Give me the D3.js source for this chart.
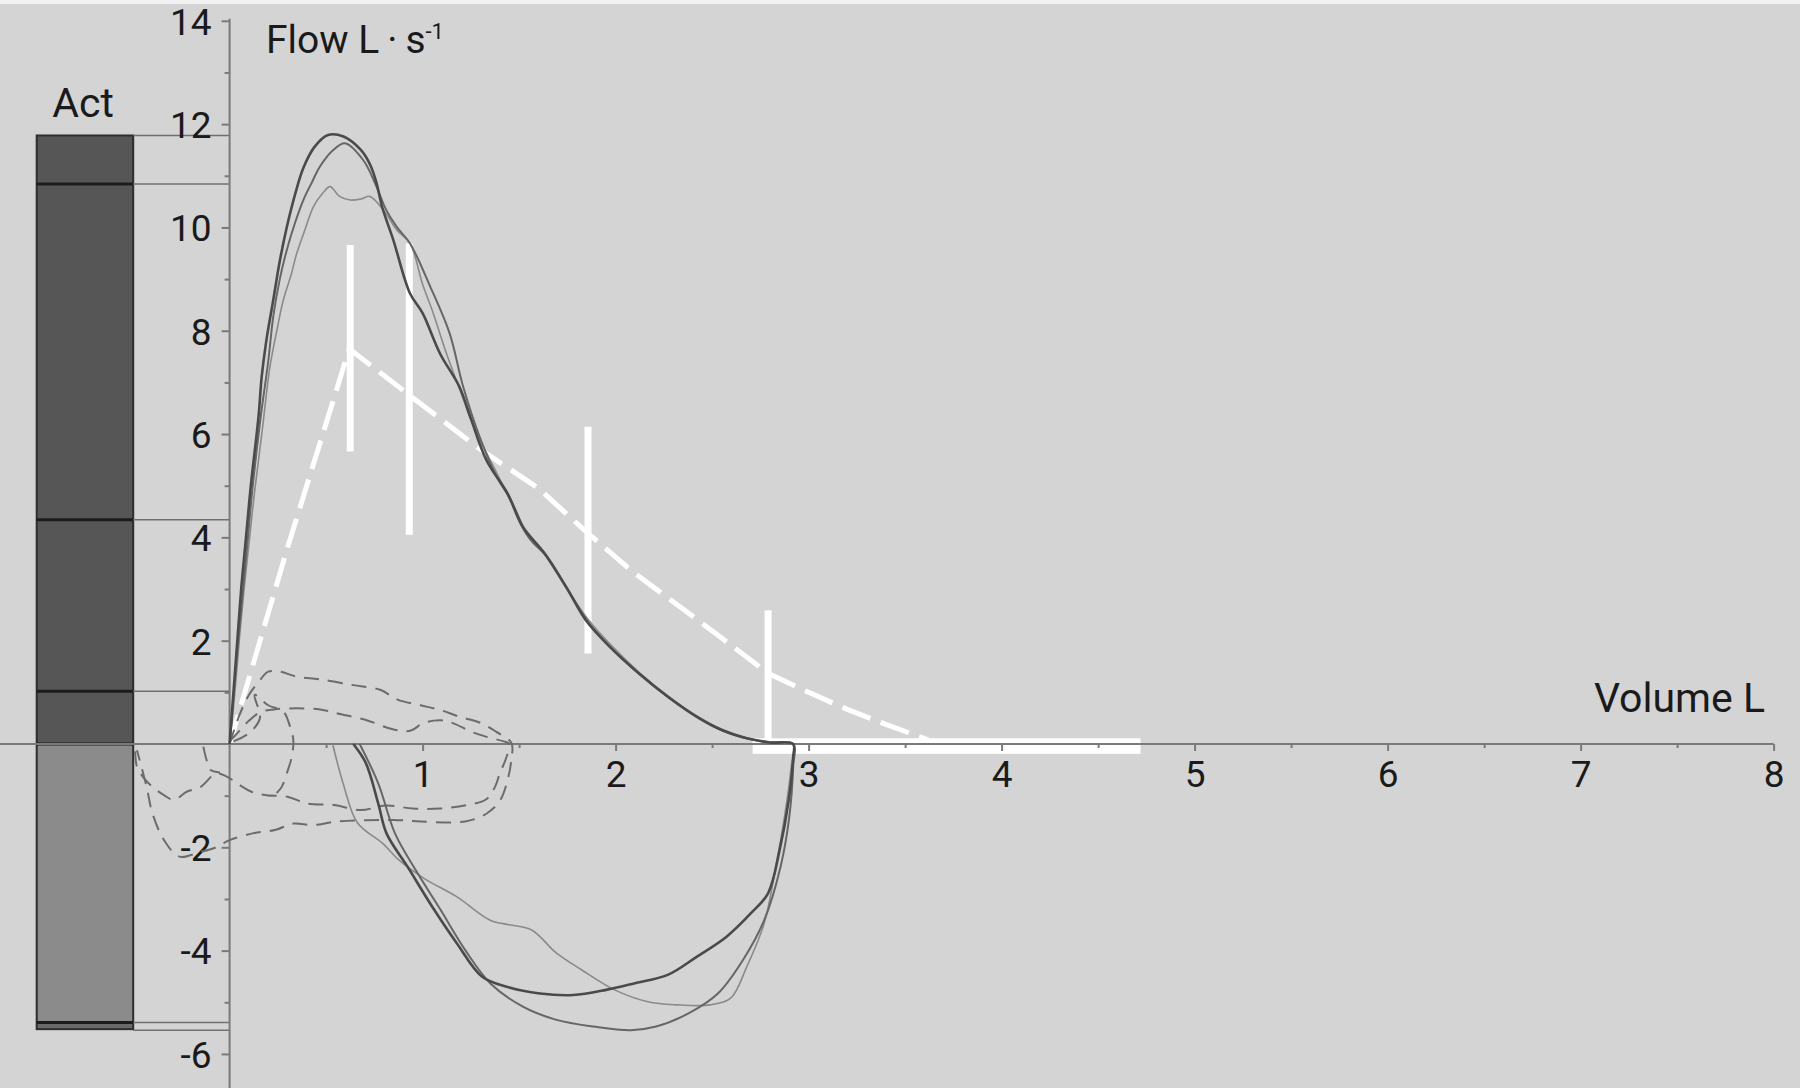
<!DOCTYPE html>
<html><head><meta charset="utf-8">
<script src="https://cdn.jsdelivr.net/npm/d3@7"></script>
<style>html,body{margin:0;padding:0;background:#d4d4d4;}svg{display:block;}</style>
</head><body>
<svg id="c" width="1800" height="1088"></svg>
<script>
// ---------- data ----------
const xTickValues = [1,2,3,4,5,6,7,8];
const xMinorTicks = [0.5,1.5,2.5,3.5,4.5,5.5,6.5,7.5];
const yTickValues = [14,12,10,8,6,4,2,-2,-4,-6];
const yMinorTicks = [13,11,9,7,5,3,1,-1,-3,-5];
const actDarkTop = 11.78;
const actLightBottom = -5.39;
const actBottom = -5.52;
const actDividers = [10.84, 4.34, 1.02, 0, -5.39];
const actRefLines = [11.78, 10.84, 4.34, 1.02, -5.39, -5.54];

// measured loops (volume L, flow L/s)
const loopA = [[0,0],[0.02,1.0],[0.04,2.0],[0.06,3.0],[0.08,3.8],[0.11,5.0],[0.15,6.34],[0.166,7.1],[0.19,7.8],[0.226,8.59],[0.26,9.35],[0.296,10.0],[0.34,10.65],[0.382,11.15],[0.44,11.56],[0.51,11.79],[0.59,11.76],[0.68,11.5],[0.73,11.2],[0.762,10.85],[0.79,10.4],[0.848,9.76],[0.935,8.72],[1.0,8.34],[1.09,7.56],[1.19,6.92],[1.25,6.3],[1.33,5.5],[1.44,4.85],[1.52,4.2],[1.63,3.7],[1.75,3.0],[1.845,2.4],[1.97,1.88],[2.12,1.37],[2.27,0.92],[2.42,0.53],[2.55,0.27],[2.68,0.11],[2.8,0.03],[2.92,0],
  [2.92,-0.25],[2.897,-1.08],[2.85,-2.05],[2.79,-2.89],[2.70,-3.28],[2.575,-3.73],[2.42,-4.12],[2.27,-4.47],[2.10,-4.63],[1.95,-4.76],[1.78,-4.86],[1.608,-4.83],[1.436,-4.70],[1.307,-4.50],[1.178,-3.86],[1.05,-3.15],[0.921,-2.37],[0.813,-1.73],[0.77,-1.15],[0.706,-0.37],[0.641,0]];
const loopB = [[0,0],[0.02,0.9],[0.045,2.0],[0.07,3.0],[0.09,3.8],[0.12,5.0],[0.16,6.3],[0.2,7.4],[0.226,8.27],[0.26,9.0],[0.296,9.56],[0.34,10.1],[0.382,10.53],[0.43,10.9],[0.468,11.18],[0.537,11.5],[0.598,11.63],[0.693,11.3],[0.76,10.8],[0.81,10.35],[0.866,10.01],[0.935,9.69],[1.04,8.85],[1.14,7.95],[1.21,6.92],[1.3,5.9],[1.38,5.2],[1.46,4.7],[1.55,4.0],[1.65,3.6],[1.75,3.0],[1.86,2.35],[1.98,1.85],[2.13,1.33],[2.28,0.88],[2.43,0.5],[2.56,0.25],[2.69,0.1],[2.8,0.03],[2.92,0],
  [2.92,-0.44],[2.90,-1.41],[2.855,-2.37],[2.77,-3.41],[2.66,-4.18],[2.53,-4.83],[2.38,-5.21],[2.21,-5.47],[2.08,-5.54],[1.888,-5.47],[1.694,-5.34],[1.522,-5.09],[1.35,-4.63],[1.221,-3.99],[1.093,-3.21],[0.964,-2.44],[0.857,-1.73],[0.77,-0.76],[0.674,0]];
const loopC = [[0,0],[0.025,0.9],[0.05,2.0],[0.075,3.0],[0.097,3.76],[0.13,4.9],[0.17,6.1],[0.209,7.3],[0.25,8.1],[0.278,8.59],[0.32,9.1],[0.348,9.5],[0.39,9.95],[0.434,10.4],[0.48,10.65],[0.52,10.79],[0.57,10.6],[0.624,10.53],[0.68,10.55],[0.727,10.6],[0.796,10.34],[0.866,9.95],[0.935,9.69],[1.0,8.9],[1.055,8.34],[1.12,7.6],[1.194,6.85],[1.26,6.2],[1.332,5.63],[1.39,5.2],[1.453,4.72],[1.53,4.1],[1.64,3.65],[1.75,3.0],[1.86,2.4],[1.98,1.9],[2.13,1.36],[2.28,0.9],[2.43,0.52],[2.56,0.27],[2.69,0.1],[2.8,0.03],[2.92,0],
  [2.91,-0.44],[2.875,-1.41],[2.83,-2.37],[2.77,-3.47],[2.68,-4.31],[2.596,-4.92],[2.49,-5.05],[2.317,-5.05],[2.167,-4.99],[1.995,-4.76],[1.823,-4.37],[1.694,-4.05],[1.565,-3.60],[1.45,-3.5],[1.35,-3.41],[1.178,-2.96],[1.007,-2.60],[0.878,-2.25],[0.792,-1.92],[0.663,-1.53],[0.588,-0.76],[0.534,0]];

// tidal breathing loops (dashed)
const tidal1 = [[0,0],[0.05,0.55],[0.1,0.95],[0.15,1.2],[0.2,1.40],[0.26,1.40],[0.35,1.30],[0.47,1.25],[0.64,1.14],[0.78,1.05],[0.87,0.86],[0.99,0.75],[1.09,0.66],[1.19,0.53],[1.30,0.41],[1.38,0.24],[1.46,0.02],[1.46,-0.3],[1.44,-0.7],[1.40,-1.1],[1.33,-1.35],[1.22,-1.50],[0.99,-1.50],[0.85,-1.47],[0.56,-1.50],[0.43,-1.57],[0.33,-1.54],[0.24,-1.66],[0.12,-1.73],[0,-1.86],[-0.07,-2.0],[-0.16,-2.1],[-0.26,-2.18],[-0.34,-1.86],[-0.40,-1.34],[-0.43,-0.83],[-0.48,-0.12]];
const tidal2 = [[0.0,0.05],[0.05,0.25],[0.1,0.45],[0.16,0.62],[0.23,0.67],[0.35,0.69],[0.47,0.67],[0.56,0.59],[0.71,0.46],[0.85,0.28],[0.94,0.26],[1.0,0.40],[1.09,0.46],[1.16,0.40],[1.25,0.24],[1.33,0.14],[1.42,0.05],[1.45,0],[1.43,-0.3],[1.40,-0.57],[1.375,-0.83],[1.33,-1.07],[1.23,-1.18],[1.09,-1.25],[0.95,-1.25],[0.81,-1.19],[0.68,-1.28],[0.54,-1.18],[0.40,-1.15],[0.30,-1.02],[0.19,-0.99],[0.11,-0.92],[0.05,-0.79],[-0.015,-0.63],[-0.07,-0.57],[-0.15,-0.83],[-0.22,-0.92],[-0.29,-1.08],[-0.34,-0.99],[-0.40,-0.83],[-0.45,-0.63],[-0.48,-0.44],[-0.49,-0.1]];
const tidal3 = [[0.02,0.05],[0.10,0.21],[0.157,0.50],[0.13,0.95],[0.2,0.75],[0.278,0.63],[0.313,0.34],[0.33,0.08],[0.322,-0.25],[0.296,-0.57],[0.27,-0.83],[0.244,-0.95]];
const tidal4 = [[-0.136,-0.05],[-0.12,-0.3],[-0.10,-0.5],[-0.05,-0.55]];

// predicted curve and SD bars (white)
const predicted = [[0,0],[0.30,3.8],[0.62,7.65],[0.95,6.7],[1.3,5.7],[1.6,4.95],[1.85,4.1],[2.1,3.3],[2.3,2.75],[2.55,2.05],[2.79,1.37],[3.0,1.0],[3.2,0.67],[3.4,0.38],[3.62,0.08]];
const sdBars = [[0.625,5.66,9.66],[0.931,4.05,9.69],[1.857,1.75,6.14],[2.79,0,2.59]];
const refBand = [2.71,4.72,-0.19,0.11];

// ---------- drawing ----------
const svg = d3.select('#c');
const x = d3.scaleLinear().domain([0,8]).range([229.6,1773.6]);
const y = d3.scaleLinear().domain([0,14]).range([744,20.8]);
const FONT = "Roboto, 'Liberation Sans', Arial, sans-serif";
const axisCol = '#7a7a7a';
const fmt = d => String(d);

svg.append('rect').attr('width',1800).attr('height',1088).attr('fill','#d4d4d4');
svg.append('rect').attr('width',1800).attr('height',4).attr('fill','#f2f2f2');

// Act bar
const bx0 = 36.7, bx1 = 133.2;
svg.append('rect').attr('x',bx0).attr('y',y(actDarkTop)).attr('width',bx1-bx0).attr('height',y(0)-y(actDarkTop)).attr('fill','#565656');
svg.append('rect').attr('x',bx0).attr('y',y(0)).attr('width',bx1-bx0).attr('height',y(actLightBottom)-y(0)).attr('fill','#8b8b8b');
svg.append('rect').attr('x',bx0).attr('y',y(actLightBottom)).attr('width',bx1-bx0).attr('height',y(actBottom)-y(actLightBottom)).attr('fill','#6a6a6a');
svg.append('rect').attr('x',bx0).attr('y',y(actDarkTop)).attr('width',bx1-bx0).attr('height',y(actBottom)-y(actDarkTop)).attr('fill','none').attr('stroke','#2e2e2e').attr('stroke-width',2);
svg.selectAll('line.div').data(actDividers).enter().append('line')
  .attr('x1',bx0).attr('x2',bx1).attr('y1',d=>y(d)).attr('y2',d=>y(d)).attr('stroke','#1c1c1c').attr('stroke-width',3);
svg.selectAll('line.ref').data(actRefLines).enter().append('line')
  .attr('x1',bx1).attr('x2',x(0)).attr('y1',d=>y(d)).attr('y2',d=>y(d)).attr('stroke','#707070').attr('stroke-width',1.5);
svg.append('text').attr('x',83).attr('y',117).attr('text-anchor','middle').attr('font-family',FONT).attr('font-size',41).attr('fill','#1a1a1a').text('Act');

// white reference band, bars and predicted curve
svg.append('rect').attr('x',x(refBand[0])).attr('y',y(refBand[3])).attr('width',x(refBand[1])-x(refBand[0])).attr('height',y(refBand[2])-y(refBand[3])).attr('fill','#ffffff');
svg.selectAll('line.sd').data(sdBars).enter().append('line')
  .attr('x1',d=>x(d[0])).attr('x2',d=>x(d[0])).attr('y1',d=>y(d[1])).attr('y2',d=>y(d[2])).attr('stroke','#ffffff').attr('stroke-width',7);
const line = d3.line().x(d=>x(d[0])).y(d=>y(d[1]));
svg.append('path').attr('d',line(predicted)).attr('fill','none').attr('stroke','#ffffff').attr('stroke-width',5).attr('stroke-dasharray','30,11');

// axes
const yAxis = d3.axisLeft(y).tickValues(yTickValues).tickSize(8).tickSizeOuter(0).tickPadding(10).tickFormat(fmt);
const gy = svg.append('g').attr('transform',`translate(${x(0)},0)`).call(yAxis);
const yMinor = d3.axisLeft(y).tickValues(yMinorTicks).tickSize(5).tickSizeOuter(0).tickFormat('');
const gym = svg.append('g').attr('transform',`translate(${x(0)},0)`).call(yMinor);
const xAxis = d3.axisBottom(x).tickValues(xTickValues).tickSize(7).tickSizeOuter(0).tickPadding(10).tickFormat(fmt);
const gx = svg.append('g').attr('transform',`translate(0,${y(0)})`).call(xAxis);
const xMinor = d3.axisBottom(x).tickValues(xMinorTicks).tickSize(4).tickSizeOuter(0).tickFormat('');
const gxm = svg.append('g').attr('transform',`translate(0,${y(0)})`).call(xMinor);
[gy,gym,gx,gxm].forEach(g=>{
  g.select('.domain').remove();
  g.selectAll('.tick line').attr('stroke',axisCol).attr('stroke-width',2);
  g.selectAll('.tick text').attr('font-family',FONT).attr('font-size',37).attr('fill','#1a1a1a');
});
gy.selectAll('.tick text').attr('dy','0.36em');
svg.append('line').attr('x1',x(0)).attr('x2',x(0)).attr('y1',y(14)-2).attr('y2',1088).attr('stroke',axisCol).attr('stroke-width',2);
svg.append('line').attr('x1',0).attr('x2',x(8)).attr('y1',y(0)).attr('y2',y(0)).attr('stroke',axisCol).attr('stroke-width',2);

// tidal loops
const sm = d3.line().x(d=>x(d[0])).y(d=>y(d[1])).curve(d3.curveCatmullRom.alpha(0.5));
[tidal1,tidal2,tidal3,tidal4].forEach(t=>{
  svg.append('path').attr('d',sm(t)).attr('fill','none').attr('stroke','#6c6c6c').attr('stroke-width',2).attr('stroke-dasharray','15,9');
});

// measured loops
svg.append('path').attr('d',sm(loopC)).attr('fill','none').attr('stroke','#8a8a8a').attr('stroke-width',1.6);
svg.append('path').attr('d',sm(loopB)).attr('fill','none').attr('stroke','#666666').attr('stroke-width',2);
svg.append('path').attr('d',sm(loopA)).attr('fill','none').attr('stroke','#4a4a4a').attr('stroke-width',2.6);

// axis titles
const ft = svg.append('text').attr('x',266).attr('y',53).attr('font-family',FONT).attr('font-size',39).attr('fill','#1a1a1a');
ft.append('tspan').text('Flow L\u2009·\u2009s');
ft.append('tspan').attr('font-size',22).attr('dy',-14).text('-1');
svg.append('text').attr('x',1765).attr('y',712).attr('text-anchor','end').attr('font-family',FONT).attr('font-size',41).attr('fill','#1a1a1a').text('Volume L');
</script>
</body></html>
